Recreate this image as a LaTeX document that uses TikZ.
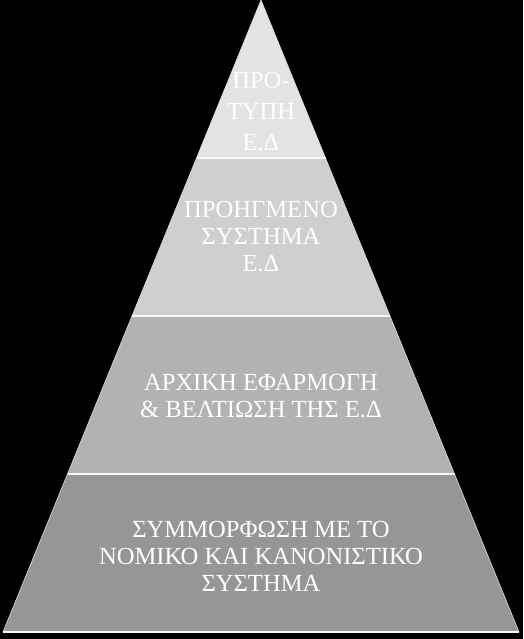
\documentclass[tikz,border=0pt]{standalone}
\usepackage{fontspec}
\setmainfont{Liberation Serif}
\definecolor{lvA}{gray}{0.89}
\definecolor{lvB}{gray}{0.81}
\definecolor{lvC}{gray}{0.70}
\definecolor{lvD}{gray}{0.59}
\begin{document}
\begin{tikzpicture}[x=1pt,y=-1pt,
  level/.style={line width=0.6pt,draw=white!75!gray},
  sep/.style={draw=white!95!gray,line width=2pt},
  label/.style={text=white,align=center,font=\fontsize{24.6}{27}\selectfont,inner sep=0pt}]
\fill[black] (0,0) rectangle (523,639);
\useasboundingbox (0,0) rectangle (523,639);
% levels
\coordinate (apex) at (261,0);
\coordinate (l1) at (196.5,158); \coordinate (r1) at (325.5,158);
\coordinate (l2) at (132,316);   \coordinate (r2) at (390,316);
\coordinate (l3) at (67.5,474);  \coordinate (r3) at (454.5,474);
\coordinate (l4) at (3,632);     \coordinate (r4) at (519,632);
\fill[lvA] (apex) -- (r1) -- (l1) -- cycle;
\fill[lvB] (l1) -- (r1) -- (r2) -- (l2) -- cycle;
\fill[lvC] (l2) -- (r2) -- (r3) -- (l3) -- cycle;
\fill[lvD] (l3) -- (r3) -- (r4) -- (l4) -- cycle;
\draw[level] (apex) -- (r4) -- (l4) -- cycle;
\draw[sep] (l1) -- (r1);
\draw[sep] (l2) -- (r2);
\draw[sep] (l3) -- (r3);
\draw[sep,line width=1.5pt] (l4) -- (r4);
% labels
\node[label,font=\fontsize{24.6}{31}\selectfont] (t1) at (261,112) {ΠΡΟ-\\ΤΥΠΗ\\Ε.Δ};
\node[label] (t2) at (261,237) {ΠΡΟΗΓΜΕΝΟ\\ΣΥΣΤΗΜΑ\\Ε.Δ};
\node[label] (t3) at (261,396) {ΑΡΧΙΚΗ ΕΦΑΡΜΟΓΗ\\\& ΒΕΛΤΙΩΣΗ ΤΗΣ Ε.Δ};
\node[label] (t4) at (261,556) {ΣΥΜΜΟΡΦΩΣΗ ΜΕ ΤΟ\\ΝΟΜΙΚΟ ΚΑΙ ΚΑΝΟΝΙΣΤΙΚΟ\\ΣΥΣΤΗΜΑ};
\end{tikzpicture}
\end{document}
